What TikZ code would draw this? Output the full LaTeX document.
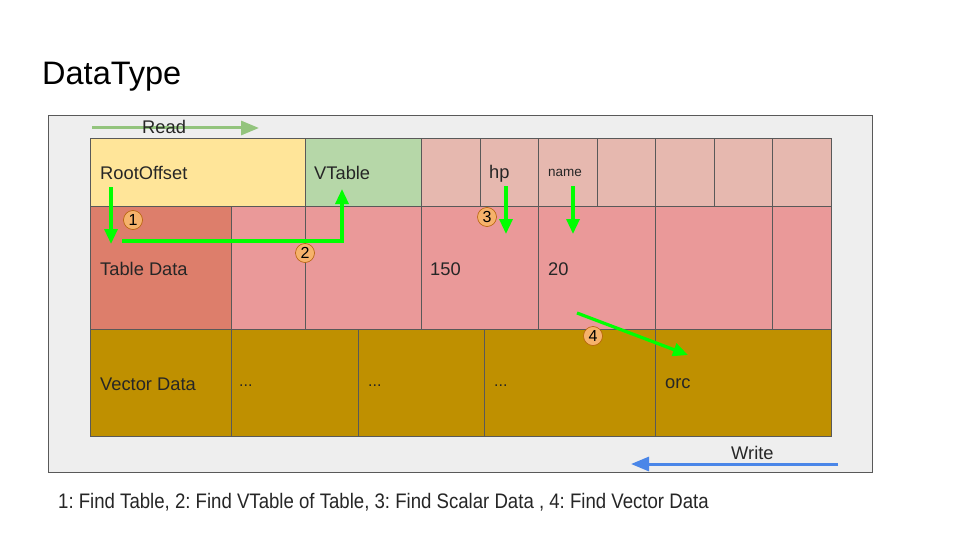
\documentclass[tikz,border=0pt]{standalone}
\usepackage{fontspec}
\setmainfont{Liberation Sans}
\usetikzlibrary{arrows.meta}
\frenchspacing
\definecolor{bgray}{HTML}{EEEEEE}
\definecolor{frame}{HTML}{595959}
\definecolor{cyellow}{HTML}{FFE599}
\definecolor{cgreen}{HTML}{B6D7A8}
\definecolor{clpink}{HTML}{E6B8AF}
\definecolor{cpink}{HTML}{EA9999}
\definecolor{cred}{HTML}{DD7E6B}
\definecolor{cgold}{HTML}{BF9000}
\definecolor{corange}{HTML}{F6B26B}
\definecolor{cborange}{HTML}{B45F06}
\definecolor{readg}{HTML}{93C47D}
\definecolor{writeb}{HTML}{4A86E8}
\definecolor{bright}{HTML}{00FF00}
\begin{document}
\begin{tikzpicture}[x=1pt,y=-1pt,
  cell/.style={draw=frame,line width=0.7pt,inner sep=0pt,outer sep=0pt,anchor=north west},
  lbl/.style={anchor=west,inner sep=0pt,font=\fontsize{18.3}{21}\selectfont,text=black!85},
  numc/.style={circle,draw=cborange,line width=0.6pt,fill=corange,minimum size=19pt,inner sep=0pt,font=\fontsize{16}{16}\selectfont},
  garrow/.style={draw=bright,line width=3.2pt,-{Triangle[length=15pt,width=13pt]}},
]
\useasboundingbox (0,0) rectangle (960,540);
\fill[white] (0,0) rectangle (960,540);
\node[anchor=west,inner sep=0pt,font=\fontsize{32.5}{36}\selectfont] (title) at (42,77) {DataType};
\node[draw=frame,fill=bgray,line width=0.8pt,minimum width=824pt,minimum height=357pt,inner sep=0pt,anchor=north west] (outer) at (48,115) {};
% top row
\node[cell,fill=cyellow,minimum width=215pt,minimum height=68pt] (root) at (90,138) {};
\node[cell,fill=cgreen,minimum width=116pt,minimum height=68pt] (vt) at (305,138) {};
\node[cell,fill=clpink,minimum width=59pt,minimum height=68pt] (t1) at (421,138) {};
\node[cell,fill=clpink,minimum width=58pt,minimum height=68pt] (t2) at (480,138) {};
\node[cell,fill=clpink,minimum width=59pt,minimum height=68pt] (t3) at (538,138) {};
\node[cell,fill=clpink,minimum width=58pt,minimum height=68pt] (t4) at (597,138) {};
\node[cell,fill=clpink,minimum width=59pt,minimum height=68pt] (t5) at (655,138) {};
\node[cell,fill=clpink,minimum width=58pt,minimum height=68pt] (t6) at (714,138) {};
\node[cell,fill=clpink,minimum width=59pt,minimum height=68pt] (t7) at (772,138) {};
% middle row
\node[cell,fill=cred,minimum width=141pt,minimum height=123pt] (m1) at (90,206) {};
\node[cell,fill=cpink,minimum width=74pt,minimum height=123pt] (m2) at (231,206) {};
\node[cell,fill=cpink,minimum width=116pt,minimum height=123pt] (m3) at (305,206) {};
\node[cell,fill=cpink,minimum width=117pt,minimum height=123pt] (m4) at (421,206) {};
\node[cell,fill=cpink,minimum width=117pt,minimum height=123pt] (m5) at (538,206) {};
\node[cell,fill=cpink,minimum width=117pt,minimum height=123pt] (m6) at (655,206) {};
\node[cell,fill=cpink,minimum width=59pt,minimum height=123pt] (m7) at (772,206) {};
% bottom row
\node[cell,fill=cgold,minimum width=141pt,minimum height=107pt] (b1) at (90,329) {};
\node[cell,fill=cgold,minimum width=127pt,minimum height=107pt] (b2) at (231,329) {};
\node[cell,fill=cgold,minimum width=126pt,minimum height=107pt] (b3) at (358,329) {};
\node[cell,fill=cgold,minimum width=171pt,minimum height=107pt] (b4) at (484,329) {};
\node[cell,fill=cgold,minimum width=176pt,minimum height=107pt] (b5) at (655,329) {};
% labels
\node[lbl] (lroot) at (100,173) {RootOffset};
\node[lbl] (lvt) at (314,173) {VTable};
\node[lbl] (lhp) at (489,174) {hp};
\node[lbl,font=\fontsize{13.5}{15}\selectfont] (lname) at (548,173) {name};
\node[lbl] (ltd) at (100,269) {Table Data};
\node[lbl] (l150) at (430,269) {150};
\node[lbl] (l20) at (548,269) {20};
\node[lbl] (lvd) at (100,384) {Vector Data};
\node[lbl,font=\fontsize{16}{18}\selectfont] (ld1) at (239,386) {...};
\node[lbl,font=\fontsize{16}{18}\selectfont] (ld2) at (368,386) {...};
\node[lbl,font=\fontsize{16}{18}\selectfont] (ld3) at (494,386) {...};
\node[lbl] (lorc) at (665,384) {orc};
% read / write
\coordinate (rs) at (92,128);
\coordinate (re) at (259,128);
\draw[draw=readg,line width=3pt,-{Triangle[length=18pt,width=14pt]}] (rs) -- (re);
\node[lbl] (lread) at (142,127) {Read};
\coordinate (ws) at (838,464);
\coordinate (we) at (631,464);
\draw[draw=writeb,line width=3pt,-{Triangle[length=18pt,width=14pt]}] (ws) -- (we);
\node[lbl] (lwrite) at (731,453) {Write};
% green arrows
\coordinate (a1s) at (111,187);
\coordinate (a1e) at (111,244);
\draw[garrow] (a1s) -- (a1e);
\coordinate (a2s) at (122,241);
\coordinate (a2c) at (342,241);
\coordinate (a2e) at (342,189);
\draw[garrow] (a2s) -- (a2c) -- (a2e);
\coordinate (a3s) at (506,186);
\coordinate (a3e) at (506,234);
\draw[garrow] (a3s) -- (a3e);
\coordinate (a5s) at (573,186);
\coordinate (a5e) at (573,234);
\draw[garrow] (a5s) -- (a5e);
\coordinate (a4s) at (577,313);
\coordinate (a4e) at (688,355);
\draw[garrow] (a4s) -- (a4e);
% numbers
\node[numc] (n1) at (133,220) {1};
\node[numc] (n2) at (305,253) {2};
\node[numc] (n3) at (487,217) {3};
\node[numc] (n4) at (593,336) {4};
% caption
\node[lbl,font=\fontsize{21}{24}\selectfont,xscale=0.886] (cap) at (58,502) {1: Find Table, 2: Find VTable of Table, 3: Find Scalar Data , 4: Find Vector Data};
\end{tikzpicture}
\end{document}
